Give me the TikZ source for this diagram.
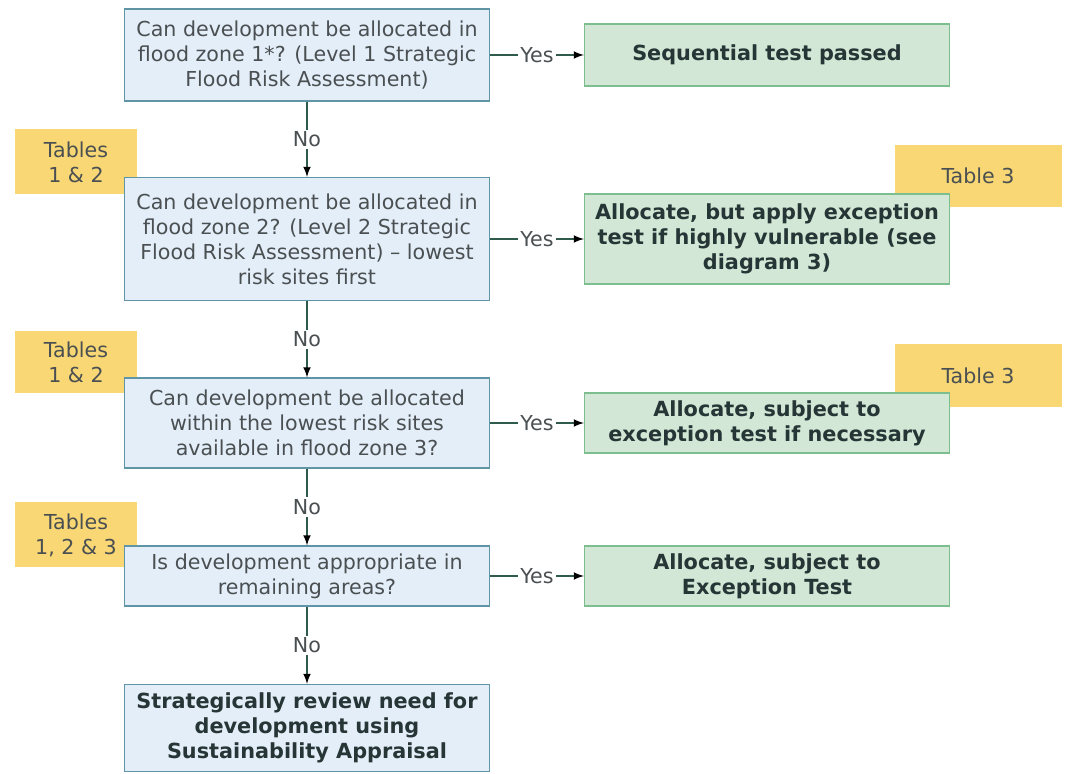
\documentclass[tikz,border=0pt]{standalone}
\usepackage{fontspec}
\setmainfont{DejaVu Sans}
\usetikzlibrary{arrows}
\definecolor{qfill}{HTML}{E4EEF8}
\definecolor{qline}{HTML}{5F95A5}
\definecolor{qtext}{HTML}{4A4F52}
\definecolor{rfill}{HTML}{D2E7D5}
\definecolor{rline}{HTML}{7DBE8E}
\definecolor{rtext}{HTML}{263535}
\definecolor{tfill}{HTML}{F8D774}
\definecolor{arrowc}{HTML}{2F5B4D}

\begin{document}
\begin{tikzpicture}[x=0.5pt,y=-0.5pt,
  txt/.style={font=\fontsize{10.3}{12.5}\selectfont},
  bold/.style={font=\fontsize{10.4}{12.5}\selectfont\bfseries},
  qbox/.style={txt, draw=qline, line width=0.6pt, fill=qfill, text=qtext, align=center, minimum width=182.5pt, inner sep=1pt},
  rbox/.style={bold, draw=rline, line width=0.6pt, fill=rfill, text=rtext, align=center, minimum width=182.5pt, inner sep=1pt},
  tbox/.style={txt, fill=tfill, text=qtext, align=center, inner sep=1pt},
  flow/.style={-latex, draw=arrowc, line width=0.75pt},
  lbl/.style={txt, fill=white, text=qtext, inner sep=1pt}]
  \useasboundingbox (0,0) rectangle (1073,774);
  % table tags (behind the boxes)
  \node[tbox, minimum width=61pt, minimum height=32.5pt] (t1) at (76,162) {Tables\\1 \& 2};
  \node[tbox, minimum width=83.5pt, minimum height=31pt] (t2) at (978,176) {Table 3};
  \node[tbox, minimum width=61pt, minimum height=31pt] (t3) at (76,362) {Tables\\1 \& 2};
  \node[tbox, minimum width=83.5pt, minimum height=31.5pt] (t4) at (978,376) {Table 3};
  \node[tbox, minimum width=61pt, minimum height=32.5pt] (t5) at (76,535) {Tables\\1, 2 \& 3};
  % questions
  \node[qbox, minimum height=46pt] (q1) at (307,55) {Can development be allocated in\\flood zone 1*? (Level 1 Strategic\\Flood Risk Assessment)};
  \node[qbox, minimum height=61.5pt] (q2) at (307,239) {Can development be allocated in\\flood zone 2? (Level 2 Strategic\\Flood Risk Assessment) -- lowest\\risk sites first};
  \node[qbox, minimum height=45pt] (q3) at (307,423) {Can development be allocated\\within the lowest risk sites\\available in flood zone 3?};
  \node[qbox, minimum height=30pt] (q4) at (307,576) {Is development appropriate in\\remaining areas?};
  \node[qbox, bold, minimum height=43.5pt, text=rtext] (q5) at (307,728) {Strategically review need for\\development using\\Sustainability Appraisal};
  % outcomes
  \node[rbox, minimum height=31pt] (r1) at (767,55) {Sequential test passed};
  \node[rbox, minimum height=45pt] (r2) at (767,239) {Allocate, but apply exception\\test if highly vulnerable (see\\diagram 3)};
  \node[rbox, minimum height=30pt] (r3) at (767,423) {Allocate, subject to\\exception test if necessary};
  \node[rbox, minimum height=30pt] (r4) at (767,576) {Allocate, subject to\\Exception Test};
  % connectors
  \path[flow]
  (q1) edge node[lbl] {No} (q2)
  (q2) edge node[lbl] {No} (q3)
  (q3) edge node[lbl] {No} (q4)
  (q4) edge node[lbl] {No} (q5)
  (q1) edge node[lbl] {Yes} (r1)
  (q2) edge node[lbl] {Yes} (r2)
  (q3) edge node[lbl] {Yes} (r3)
  (q4) edge node[lbl] {Yes} (r4);
\end{tikzpicture}
\end{document}
